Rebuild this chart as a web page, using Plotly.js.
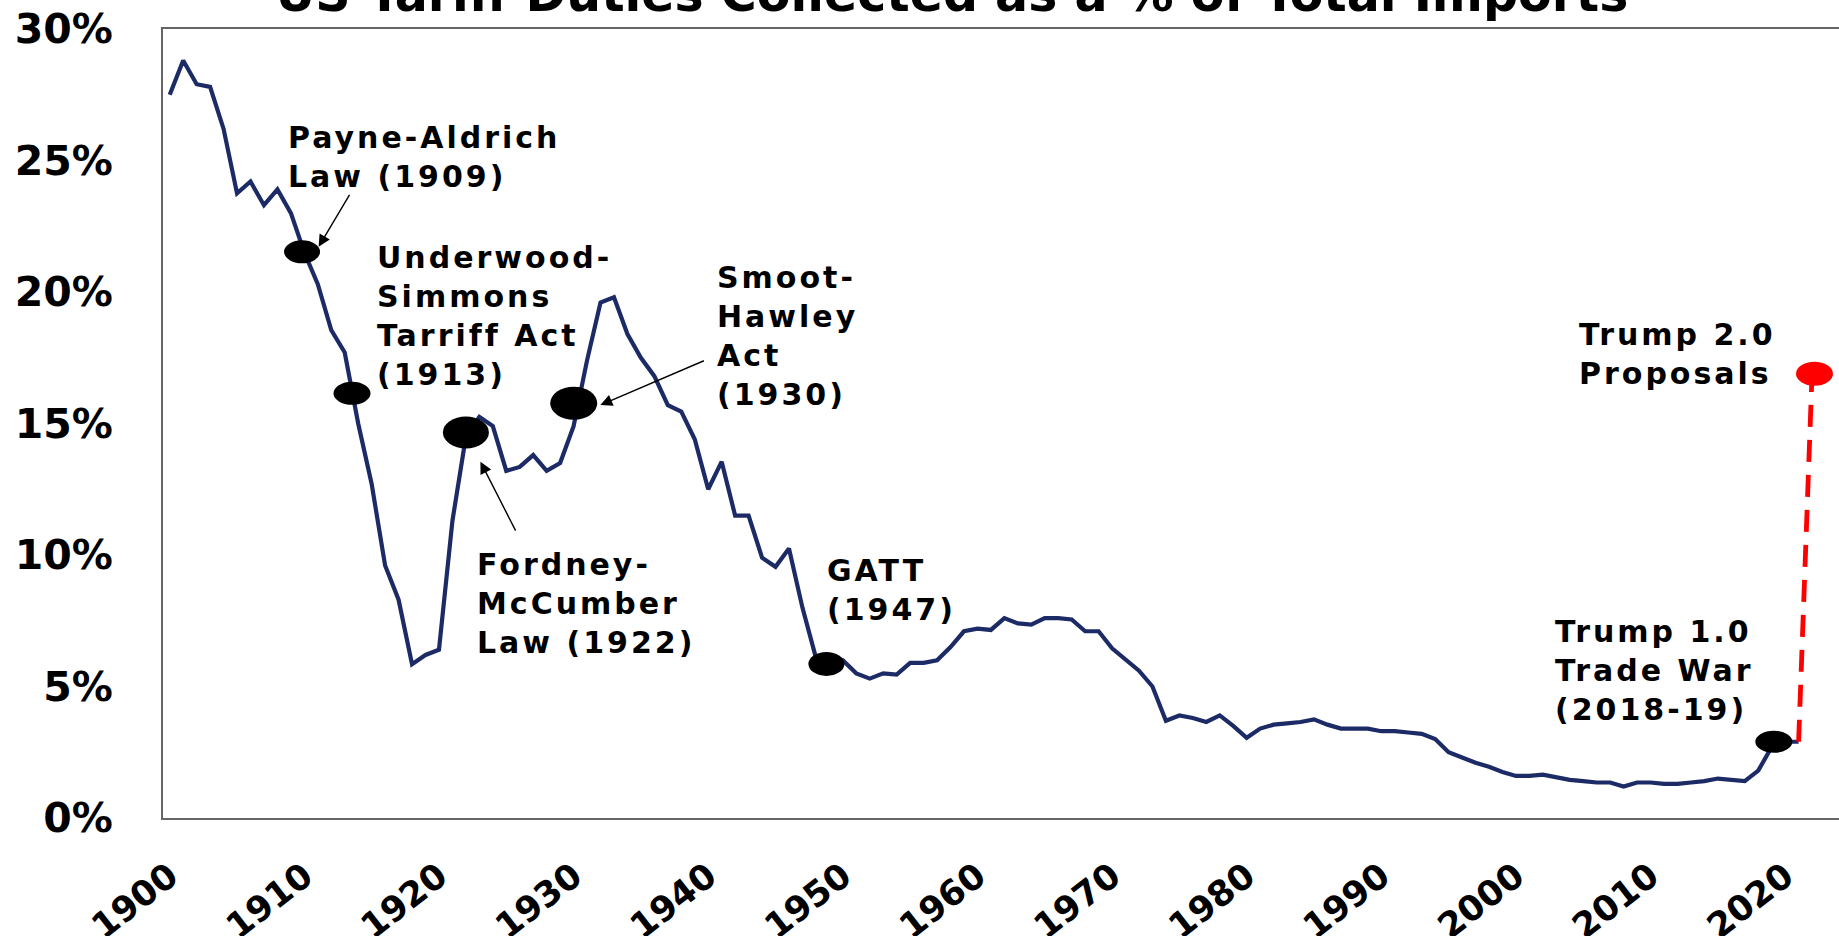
<!DOCTYPE html>
<html>
<head>
<meta charset="utf-8">
<script src="https://cdn.plot.ly/plotly-3.0.1.min.js"></script>
<style>
html,body{margin:0;padding:0;background:#ffffff;}
#chart{width:1839px;height:936px;}
.annotation-text{letter-spacing:3px;}
</style>
</head>
<body>
<div id="chart"></div>
<script>
// ---------- DATA ----------
const years = [1900,1901,1902,1903,1904,1905,1906,1907,1908,1909,
  1910,1911,1912,1913,1914,1915,1916,1917,1918,1919,
  1920,1921,1922,1923,1924,1925,1926,1927,1928,1929,
  1930,1931,1932,1933,1934,1935,1936,1937,1938,1939,
  1940,1941,1942,1943,1944,1945,1946,1947,1948,1949,
  1950,1951,1952,1953,1954,1955,1956,1957,1958,1959,
  1960,1961,1962,1963,1964,1965,1966,1967,1968,1969,
  1970,1971,1972,1973,1974,1975,1976,1977,1978,1979,
  1980,1981,1982,1983,1984,1985,1986,1987,1988,1989,
  1990,1991,1992,1993,1994,1995,1996,1997,1998,1999,
  2000,2001,2002,2003,2004,2005,2006,2007,2008,2009,
  2010,2011,2012,2013,2014,2015,2016,2017,2018,2019,
  2020,2021];
const tariffPct = [27.5,28.8,27.9,27.8,26.2,23.75,24.2,23.3,23.9,23.0,
  21.5,20.3,18.55,17.7,15.0,12.7,9.6,8.3,5.85,6.2,
  6.4,11.3,14.5,15.25,14.9,13.2,13.35,13.8,13.2,13.5,
  14.9,17.4,19.6,19.8,18.4,17.5,16.8,15.7,15.45,14.4,
  12.5,13.55,11.5,11.5,9.9,9.55,10.25,8.0,6.1,5.9,
  6.0,5.5,5.3,5.5,5.45,5.9,5.9,6.0,6.5,7.1,
  7.2,7.15,7.6,7.4,7.35,7.6,7.6,7.55,7.1,7.1,
  6.45,6.0,5.6,5.0,3.7,3.9,3.8,3.65,3.9,3.5,
  3.05,3.4,3.55,3.6,3.65,3.75,3.55,3.4,3.4,3.4,
  3.3,3.3,3.25,3.2,3.0,2.5,2.3,2.1,1.95,1.75,
  1.6,1.6,1.65,1.55,1.45,1.4,1.35,1.35,1.2,1.35,
  1.35,1.3,1.3,1.35,1.4,1.5,1.45,1.4,1.8,2.7,
  2.9,2.9];
const proposalYears = [2021, 2022];
const proposalPct = [2.9, 16.9];

// event markers (position)
const eventNames = ["Payne-Aldrich", "Underwood-Simmons", "Fordney-McCumber", "Smoot-Hawley", "GATT", "Trump 1.0", "Trump 2.0"];
const eventX = [1909.83, 1913.54, 1922.0, 1930.01, 1948.78, 2019.16, 2022.18];
const eventY = [21.53, 16.15, 14.66, 15.77, 5.86, 2.90, 16.89];

const tickYears = [1900,1910,1920,1930,1940,1950,1960,1970,1980,1990,2000,2010,2020];
const tickLabels = ["1900","1910","1920","1930","1940","1950","1960","1970","1980","1990","2000","2010","2020"];
const yTickVals = [0,5,10,15,20,25,30];
const yTickLabels = ["0%","5%","10%","15%","20%","25%","30%"];

const eventLabels = [
  "Payne-Aldrich<br>Law (1909)",
  "Underwood-<br>Simmons<br>Tarriff Act<br>(1913)",
  "Fordney-<br>McCumber<br>Law (1922)",
  "Smoot-<br>Hawley<br>Act<br>(1930)",
  "GATT<br>(1947)",
  "Trump 1.0<br>Trade War<br>(2018-19)",
  "Trump 2.0<br>Proposals"
];

// ---------- STYLE / LAYOUT ----------
const FONT = "'DejaVu Sans', 'Liberation Sans', Arial, sans-serif";
const dotStyle = [
  {w:36,h:23,c:"#000000"},{w:37,h:23,c:"#000000"},{w:46,h:32,c:"#000000"},
  {w:47,h:33,c:"#000000"},{w:36,h:24,c:"#000000"},{w:37,h:22,c:"#000000"},
  {w:37,h:24,c:"#ff0000"}
];
// label placement (data coords of the label box top-left)
const labelPos = [
  [1908.66, 26.62],[1915.25, 22.05],[1922.69, 10.39],[1940.51, 21.29],
  [1948.69, 10.14],[2002.79, 7.83],[2004.52, 19.14]
];
// arrows: [headX, headY, tailX, tailY] in data coords
const arrows = [
  [1911.06, 21.72, 1913.42, 23.75],
  [1923.08, 13.55, 1925.75, 10.87],
  [1931.99, 15.70, 1939.79, 17.41]
];

const traces = [
  {
    x: years, y: tariffPct, type: "scatter", mode: "lines",
    line: {color: "#1c2b66", width: 4.2}, hoverinfo: "x+y", showlegend: false
  },
  {
    x: proposalYears, y: proposalPct, type: "scatter", mode: "lines",
    line: {color: "#ff0000", width: 4.8, dash: "22px,13px"}, showlegend: false
  }
];

const shapes = eventX.map((ex, i) => ({
  type: "circle", xref: "x", yref: "y",
  xsizemode: "pixel", ysizemode: "pixel",
  xanchor: ex, yanchor: eventY[i],
  x0: -dotStyle[i].w / 2, x1: dotStyle[i].w / 2,
  y0: -dotStyle[i].h / 2, y1: dotStyle[i].h / 2,
  fillcolor: dotStyle[i].c, line: {width: 0}, layer: "above"
}));

const annotations = eventLabels.map((t, i) => ({
  text: t, x: labelPos[i][0], y: labelPos[i][1], xref: "x", yref: "y",
  xanchor: "left", yanchor: "top", align: "left", showarrow: false,
  font: {family: FONT, size: 30, color: "#000000", weight: 700}
}));
arrows.forEach(a => annotations.push({
  text: "", x: a[0], y: a[1], ax: a[2], ay: a[3], xref: "x", yref: "y",
  axref: "x", ayref: "y", showarrow: true, arrowhead: 2, arrowsize: 1.7,
  arrowwidth: 1.4, arrowcolor: "#000000", standoff: 0
}));

const layout = {
  width: 1839, height: 936,
  margin: {l: 163, r: 0, t: 29, b: 118, pad: 0},
  paper_bgcolor: "#ffffff", plot_bgcolor: "#ffffff",
  showlegend: false,
  title: {
    text: "US Tariff Duties Collected as a % of Total Imports",
    font: {family: FONT, size: 49, color: "#000000", weight: 700},
    xref: "container", yref: "container", x: 952 / 1839, xanchor: "center",
    y: 0.988, yanchor: "bottom"
  },
  xaxis: {
    range: [1899.5, 2024.0], showgrid: false, zeroline: false,
    showline: true, linecolor: "#666666", linewidth: 2, mirror: true,
    ticks: "", tickvals: tickYears, ticktext: tickLabels, tickangle: -38,
    ticklabelstandoff: 22, ticklabelshift: 0,
    tickfont: {family: FONT, size: 35, color: "#000000", weight: 700}
  },
  yaxis: {
    range: [0, 30], showgrid: false, zeroline: false,
    showline: true, linecolor: "#666666", linewidth: 2,
    ticks: "", tickvals: yTickVals, ticktext: yTickLabels,
    ticklabelstandoff: 40,
    tickfont: {family: FONT, size: 41, color: "#000000", weight: 700}
  },
  shapes: shapes,
  annotations: annotations
};

Plotly.newPlot("chart", traces, layout, {displayModeBar: false, staticPlot: true});
</script>
</body>
</html>
